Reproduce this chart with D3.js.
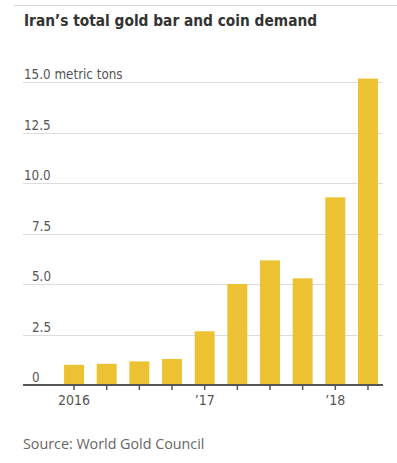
<!DOCTYPE html>
<html>
<head>
<meta charset="utf-8">
<script src="https://cdn.jsdelivr.net/npm/d3@7"></script>
<style>
  body { margin: 0; background: #fff; }
  svg text { font-family: "Liberation Sans Narrow", "DejaVu Sans Condensed", "Roboto", sans-serif; }
</style>
</head>
<body>
<script>
// quarterly demand, Q1 2016 .. Q2 2018
var quarters = ["2016Q1", "2016Q2", "2016Q3", "2016Q4", "2017Q1", "2017Q2", "2017Q3", "2017Q4", "2018Q1", "2018Q2"]
var demand = [1.0, 1.05, 1.17, 1.29, 2.66, 5.0, 6.17, 5.28, 9.29, 15.17]
var yTicks = [0, 2.5, 5.0, 7.5, 10.0, 12.5, 15.0]
var yTickLabels = ["0", "2.5", "5.0", "7.5", "10.0", "12.5", "15.0 metric tons"]
var xTickLabels = {"2016Q1": "2016", "2017Q1": "\u201917", "2018Q1": "\u201918"}

var width = 397, height = 463
var margin = {top: 82, right: 14, bottom: 78, left: 23}

var svg = d3.select("body").append("svg")
    .attr("width", width)
    .attr("height", height)

// thin rule at the very top
svg.append("line")
    .attr("x1", 14).attr("x2", width)
    .attr("y1", 5.5).attr("y2", 5.5)
    .style("stroke", "#d6d6d6")

svg.append("text")
    .attr("x", 24).attr("y", 26)
    .style("font-size", "15.3px")
    .style("font-weight", "bold")
    .style("fill", "#333")
    .text("Iran\u2019s total gold bar and coin demand")

var x = d3.scaleBand()
    .domain(quarters)
    .range([57.7, 384.3])
    .paddingInner(0.39)
    .paddingOuter(0.195)

var y = d3.scaleLinear()
    .domain([0, 15])
    .range([height - margin.bottom, margin.top])

// gridlines + labels
var grid = svg.append("g")
grid.selectAll("line")
  .data(yTicks.slice(1))
  .enter().append("line")
    .attr("x1", margin.left).attr("x2", width - margin.right)
    .attr("y1", function(d) { return Math.round(y(d)) + 0.5 })
    .attr("y2", function(d) { return Math.round(y(d)) + 0.5 })
    .style("stroke", "#dcdcdc")

grid.selectAll("text")
  .data(yTicks)
  .enter().append("text")
    .attr("x", function(d) { return d >= 10 ? 24 : 32 })
    .attr("y", function(d) { return y(d) - 3 })
    .style("font-size", "13.3px")
    .style("fill", "#555")
    .text(function(d, i) { return yTickLabels[i] })

// bars
svg.selectAll(".bar")
  .data(demand)
  .enter().append("rect")
    .attr("class", "bar")
    .attr("x", function(d, i) { return x(quarters[i]) })
    .attr("width", x.bandwidth())
    .attr("y", function(d) { return y(d) })
    .attr("height", function(d) { return y(0) - y(d) })
    .style("fill", "#ecc233")

// baseline axis
var axis = svg.append("g")
    .attr("transform", "translate(0," + y(0) + ")")
axis.append("line")
    .attr("x1", margin.left).attr("x2", width - margin.right)
    .style("stroke", "#555")
    .style("stroke-width", 2)
axis.selectAll(".tick")
  .data(quarters)
  .enter().append("line")
    .attr("x1", function(d) { return x(d) + x.bandwidth() / 2 })
    .attr("x2", function(d) { return x(d) + x.bandwidth() / 2 })
    .attr("y1", 0).attr("y2", 5)
    .style("stroke", "#555")
    .style("stroke-width", 1.5)
axis.selectAll("text")
  .data(quarters.filter(function(q) { return xTickLabels[q] }))
  .enter().append("text")
    .attr("x", function(d) { return x(d) + x.bandwidth() / 2 })
    .attr("y", 20)
    .attr("text-anchor", "middle")
    .style("font-size", "14px")
    .style("fill", "#555")
    .text(function(d) { return xTickLabels[d] })

svg.append("text")
    .attr("x", 23).attr("y", 449)
    .style("font-family", "'Open Sans', sans-serif")
    .style("font-size", "14.3px")
    .style("fill", "#666")
    .text("Source: World Gold Council")
</script>
</body>
</html>
